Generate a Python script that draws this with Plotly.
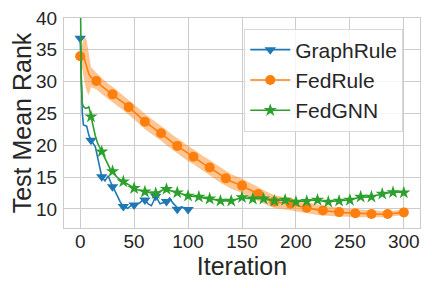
import plotly.graph_objects as go

# ---------------- data ----------------
graph_x = [0, 1, 2, 3, 6, 8, 10, 14, 15, 17, 20, 23, 26, 28, 30, 34, 37, 40, 44, 47, 50,
           55, 58, 60, 63, 66, 68, 70, 74, 77, 80, 83, 86, 89, 90, 94, 97, 100]
graph_y = [36.8, 30.0, 25.0, 23.2, 23.0, 21.6, 20.8, 19.8, 19.0, 17.2, 15.05, 14.4, 15.2, 14.3, 13.5,
           12.2, 11.15, 10.36, 10.1, 10.5, 10.6, 10.9, 11.4, 11.4, 10.8, 10.5, 11.2, 12.0, 10.8,
           11.0, 11.15, 11.7, 10.9, 10.4, 9.95, 10.3, 10.15, 9.9]

fed_x = [0, 2, 4, 6, 8, 10] + list(range(15, 301, 5))
fed_y = [34.0, 34.0, 33.5, 32.5, 31.2, 30.7, 30.1, 29.3, 28.6, 28.0, 27.3, 26.7, 26.0, 25.3,
         24.5, 23.7, 23.1, 22.5, 21.9, 21.2, 20.5, 19.9, 19.3, 18.7, 18.2, 17.6, 17.0, 16.5,
         15.9, 15.3, 14.8, 14.3, 14.0, 13.66, 13.2, 12.8, 12.35, 11.9, 11.5, 11.15, 11.0, 10.9,
         10.8, 10.55, 10.35, 10.2, 10.0, 9.85, 9.75, 9.65, 9.55, 9.5, 9.42, 9.37, 9.32, 9.27,
         9.22, 9.2, 9.18, 9.17, 9.2, 9.25, 9.35, 9.45]
fed_std = [1.0, 2.0, 3.6, 4.0, 3.3, 1.6, 1.3, 1.25, 1.2, 1.2, 1.2, 1.2, 1.2, 1.2, 1.2, 1.2,
           1.2, 1.2, 1.2, 1.2, 1.2, 1.2, 1.2, 1.2, 1.2, 1.2, 1.2, 1.2, 1.2, 1.2, 1.2, 1.15,
           1.15, 1.1, 1.1, 1.1, 1.1, 1.05, 1.05, 1.0, 1.0, 1.0, 0.95, 0.9, 0.9, 0.85, 0.8, 0.8,
           0.75, 0.75, 0.7, 0.7, 0.65, 0.65, 0.6, 0.6, 0.55, 0.55, 0.5, 0.5, 0.45, 0.45, 0.45, 0.45]

gnn_x = [0, 1, 2, 3, 5, 7, 8, 10, 12, 14, 16, 18, 20, 23, 26, 28, 30, 33, 36, 40, 43, 46, 50,
         53, 56, 60, 63, 66, 70, 73, 76, 80, 83, 86, 90, 93, 96, 100, 105, 110, 115, 120, 125,
         130, 135, 140, 145, 150, 155, 160, 165, 170, 175, 180, 185, 190, 195, 200, 205, 210,
         215, 220, 225, 230, 235, 240, 245, 250, 255, 260, 265, 270, 275, 280, 285, 290, 295, 300]
gnn_y = [48.0, 30.0, 26.6, 26.1, 25.8, 25.9, 26.1, 24.5, 22.8, 21.5, 20.4, 19.7, 19.0, 17.7,
         16.7, 16.2, 15.9, 15.2, 14.7, 14.3, 13.9, 13.6, 13.25, 13.0, 12.9, 12.7, 12.6, 12.5,
         12.45, 12.7, 12.95, 13.1, 12.9, 12.75, 12.57, 12.4, 12.2, 12.04, 11.95, 11.9, 11.7, 11.6,
         11.45, 11.26, 11.3, 11.26, 11.5, 11.8, 11.65, 11.6, 11.6, 11.6, 11.4, 11.26, 11.35, 11.4,
         11.2, 11.1, 11.2, 11.2, 11.35, 11.4, 11.2, 11.1, 11.2, 11.26, 11.35, 11.4, 11.65, 11.9,
         11.85, 11.9, 12.15, 12.35, 12.5, 12.6, 12.65, 12.55]

x_ticks = [0, 50, 100, 150, 200, 250, 300]
y_ticks = [10, 15, 20, 25, 30, 35, 40]

BLUE, ORANGE, GREEN = "#1f77b4", "#ff7f0e", "#2ca02c"
FONT = "Liberation Sans, Arial, sans-serif"
TXT = "#262626"

fig = go.Figure()

# FedRule band
upper = [m + s for m, s in zip(fed_y, fed_std)]
lower = [m - s for m, s in zip(fed_y, fed_std)]
fig.add_trace(go.Scatter(x=fed_x + fed_x[::-1], y=upper + lower[::-1], fill="toself",
                         fillcolor="rgba(255,127,14,0.45)", line=dict(width=0),
                         hoverinfo="skip", showlegend=False))

def add_series(xs, ys, color, symbol, size, every, name):
    fig.add_trace(go.Scatter(x=xs, y=ys, mode="lines", line=dict(color=color, width=1.6),
                             showlegend=False))
    mx = [x for x in xs if x % every == 0]
    my = [y for x, y in zip(xs, ys) if x % every == 0]
    fig.add_trace(go.Scatter(x=mx, y=my, mode="markers",
                             marker=dict(color=color, symbol=symbol, size=size, line=dict(width=0)),
                             showlegend=False))
    fig.add_trace(go.Scatter(x=[None], y=[None], mode="lines+markers", name=name,
                             line=dict(color=color, width=1.6),
                             marker=dict(color=color, symbol=symbol, size=size)))

add_series(graph_x, graph_y, BLUE, "triangle-down", 10, 10, "GraphRule")
add_series(fed_x, fed_y, ORANGE, "circle", 10, 15, "FedRule")
add_series(gnn_x, gnn_y, GREEN, "star", 10, 10, "FedGNN")

axis_common = dict(showgrid=True, gridcolor="#cccccc", gridwidth=1, showline=True,
                   linecolor="#cccccc", linewidth=1.2, mirror=True, zeroline=False,
                   ticks="", automargin=False, ticklabeloverflow="allow",
                   tickfont=dict(size=19, color=TXT, family=FONT))

fig.update_xaxes(range=[-15, 315], tickvals=x_ticks, ticklabelstandoff=-4,
                 title=dict(text="Iteration", font=dict(size=25, color=TXT, family=FONT),
                            standoff=0), **axis_common)
fig.update_yaxes(range=[7, 40], tickvals=y_ticks, ticklabelstandoff=2,
                 title=dict(text="Test Mean Rank", font=dict(size=25, color=TXT, family=FONT),
                            standoff=0), **axis_common)

# the page body adds an 8px offset, so the figure is 8px smaller and margins shifted
fig.update_layout(
    width=424, height=280,
    margin=dict(l=56, r=12, t=10, b=60),
    plot_bgcolor="white", paper_bgcolor="white",
    font=dict(family=FONT, color=TXT),
    legend=dict(x=0.953, y=0.95, xanchor="right", yanchor="top",
                bgcolor="rgba(255,255,255,0.8)", bordercolor="#d9d9d9", borderwidth=1,
                font=dict(size=21, color=TXT, family=FONT), tracegroupgap=0,
                itemwidth=40),
    showlegend=True,
)

fig.write_html("out.html")
